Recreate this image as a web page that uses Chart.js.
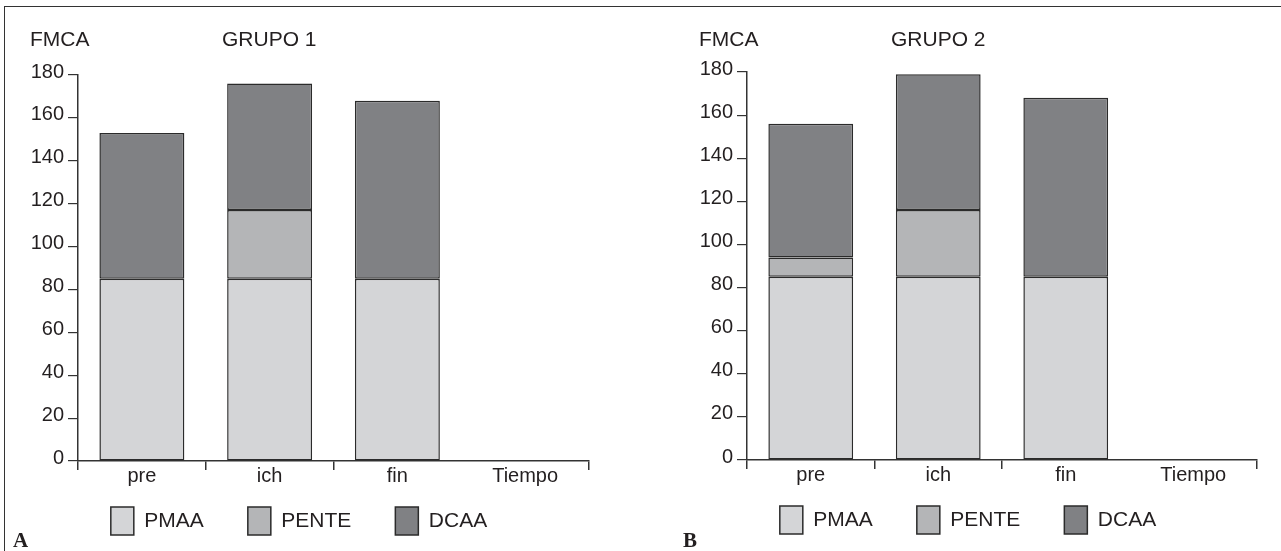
<!DOCTYPE html>
<html>
<head>
<meta charset="utf-8">
<script src="https://cdn.jsdelivr.net/npm/chart.js@4/dist/chart.umd.min.js"></script>
<style>
  body { margin: 0; background: #fff; }
  #frame { position: absolute; left: 4px; top: 6px; width: 1277px; height: 545px;
           border-top: 1.5px solid #333; border-left: 1.5px solid #333; }
  .panel { position: absolute; top: 0; height: 551px; }
  #boxA { left: 0; width: 640px; }
  #boxB { left: 640px; width: 641px; }
</style>
</head>
<body>
<div id="frame"></div>
<div class="panel" id="boxA"><canvas id="chartA"></canvas></div>
<div class="panel" id="boxB"><canvas id="chartB"></canvas></div>
<script>
// datos
let categories = ['pre', 'ich', 'fin', 'Tiempo'];
let seriesNames = ['PMAA', 'PENTE', 'DCAA'];
let yTicks = [0, 20, 40, 60, 80, 100, 120, 140, 160, 180];

// grupo 1
let pmaaA = [85, 85, 85, null];
let penteA = [0, 32, 0, null];
let dcaaA = [68, 59, 83, null];

// grupo 2
let pmaaB = [85, 85, 85, null];
let penteB = [9, 31, 0, null];
let dcaaB = [62, 63, 83, null];

let fills = ['#d4d5d7', '#b4b5b7', '#808184'];
let ink = '#231f20';
let font = 'Liberation Sans, Arial, Helvetica, sans-serif';

// textos extra: FMCA, titulo del grupo y letra del panel
let extraText = {
  id: 'extraText',
  afterDraw(chart, args, opts) {
    let ctx = chart.ctx;
    let area = chart.chartArea;
    ctx.save();
    ctx.fillStyle = ink;
    ctx.textBaseline = 'alphabetic';
    ctx.textAlign = 'left';
    ctx.font = '21px ' + font;
    ctx.fillText('FMCA', area.left - 48, 46);
    ctx.fillText(opts.title, area.left + 144, 46);
    ctx.font = 'bold 21px Liberation Serif, Times New Roman, serif';
    ctx.fillText(opts.letter, opts.letterX, 547);
    ctx.restore();
  }
};

function makeChart(id, data, pad, yWidth, title, letter, letterX) {
  let datasets = [];
  for (let i = 0; i < data.length; i++) {
    datasets.push({
      label: seriesNames[i],
      data: data[i],
      backgroundColor: fills[i],
      borderColor: '#2b2b2b',
      borderWidth: 1.5,
      borderSkipped: false,
      categoryPercentage: 1,
      barPercentage: 0.665
    });
  }
  return new Chart(document.getElementById(id), {
    type: 'bar',
    data: { labels: categories, datasets: datasets },
    plugins: [extraText],
    options: {
      responsive: true,
      maintainAspectRatio: false,
      animation: false,
      devicePixelRatio: 1,
      layout: { padding: pad },
      plugins: {
        tooltip: { enabled: false },
        extraText: { title: title, letter: letter, letterX: letterX },
        legend: {
          position: 'bottom',
          labels: {
            boxWidth: 23,
            boxHeight: 28,
            padding: 44,
            color: ink,
            font: { family: font, size: 21 }
          }
        }
      },
      scales: {
        x: {
          stacked: true,
          afterFit: s => { s.height = 2; },
          grid: {
            offset: true,
            drawOnChartArea: false,
            tickLength: 9,
            lineWidth: 1.5,
            color: c => c.index === 3 ? 'rgba(0,0,0,0)' : '#333'
          },
          border: { display: true, color: '#333', width: 1.5 },
          // mirror: evita el recorte de las etiquetas con el eje tan bajo
          ticks: { mirror: true, z: 1, color: ink, padding: -27, font: { family: font, size: 20 } }
        },
        y: {
          stacked: true,
          min: 0,
          max: 180,
          afterFit: s => { s.width = yWidth; },
          afterBuildTicks: s => { s.ticks = yTicks.map(v => ({ value: v })); },
          grid: { drawOnChartArea: false, tickLength: 10, lineWidth: 1.2, color: '#333' },
          border: { display: true, color: '#333', width: 1.5 },
          ticks: { color: ink, padding: 4, labelOffset: -3, font: { family: font, size: 20 } }
        }
      }
    }
  });
}

makeChart('chartA', [pmaaA, penteA, dcaaA], { top: 75, right: 51, bottom: 6, left: 9 }, 69, 'GRUPO 1', 'A', 13);
makeChart('chartB', [pmaaB, penteB, dcaaB], { top: 72, right: 24, bottom: 7, left: 39 }, 68, 'GRUPO 2', 'B', 43);
</script>
</body>
</html>
